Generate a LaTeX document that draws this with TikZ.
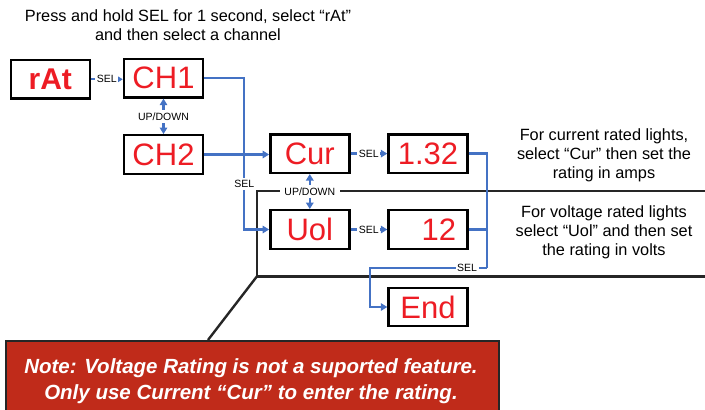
\documentclass[tikz,border=0pt]{standalone}
\usepackage{fontspec}
\setmainfont{Liberation Sans}
\usetikzlibrary{arrows.meta}
\definecolor{FlowClr}{rgb}{0.267,0.447,0.769}
\definecolor{DigitClr}{rgb}{0.929,0.110,0.141}
\definecolor{NoteClr}{rgb}{0.753,0.169,0.102}
\definecolor{FrameClr}{rgb}{0.15,0.15,0.15}

\tikzset{
  disp/.style={draw=black,line width=2.4pt,minimum width=79pt,minimum height=38.5pt,inner sep=0pt,text=DigitClr,font=\fontsize{31}{31}\selectfont},
  wire/.style={draw=FlowClr,line width=2.3pt},
  flow/.style={wire,-{Triangle[length=6.5pt,width=7.5pt]}},
  twoway/.style={wire,{Triangle[length=6.5pt,width=7.5pt]}-{Triangle[length=6.5pt,width=7.5pt]}},
  tag/.style={fill=white,inner xsep=1.5pt,inner ysep=2.5pt,font=\fontsize{10.5}{10.5}\selectfont},
  frame/.style={draw=FrameClr,line width=2.4pt},
  info/.style={align=center,font=\fontsize{16.3}{19}\selectfont},
  notebox/.style={fill=NoteClr,draw=FrameClr,line width=2pt,minimum width=493pt,minimum height=75pt,inner sep=0pt},
  notetext/.style={align=center,text=white,font=\fontsize{20.5}{26.5}\selectfont\bfseries\itshape}
}

\begin{document}
\begin{tikzpicture}[x=1pt,y=-1pt]
\useasboundingbox (0,0) rectangle (705,410);

\coordinate (fTop) at (257,190.7);
\coordinate (fBot) at (257,276.3);
\coordinate (fTip) at (208,340);
\draw[frame] (706,190.7) -- (fTop) -- (fBot) -- (706,276.3);
\draw[frame] (fBot) -- (fTip);

\node[notebox,anchor=north west] (note) at (4.7,340) {};
\node[notetext] (notetxt) at (251,381) {Note: Voltage Rating is not a suported feature.\\Only use Current “Cur” to enter the rating.};

\node[info] (hint) at (188,25.4) {Press and hold SEL for 1 second, select “rAt”\\and then select a channel};
\node[info] (curinfo) at (604,155) {For current rated lights,\\select “Cur” then set the\\rating in amps};
\node[info] (uolinfo) at (604,232.7) {For voltage rated lights\\select “Uol” and then set\\the rating in volts};

\node[disp,font=\fontsize{30}{30}\selectfont\bfseries] (rAt) at (50.3,79.3) {rAt};
\node[disp] (CH1) at (163.5,78.2) {CH1};
\node[disp] (CH2) at (163.5,154.5) {CH2};
\node[disp] (Cur) at (309.8,153.6) {Cur};
\node[disp] (v132) at (428,153.6) {1.32};
\node[disp] (Uol) at (309.8,229.5) {Uol};
\node[disp,text width=56pt,align=right] (v12) at (428,229.5) {12};
\node[disp] (End) at (428,307) {End};

\draw[flow] (rAt.east) -- node[tag]{SEL} (rAt.east -| CH1.west);
\draw[twoway] (CH1) -- node[tag]{UP/DOWN} (CH2);
\draw[flow] (CH1.east) -- ++(40,0) |- node[tag,pos=.35]{SEL} (Uol.west);
\draw[flow] (CH2.east) -- (CH2.east -| Cur.west);
\draw[twoway] (Cur) -- node[tag,inner xsep=4.5pt]{UP/DOWN} (Uol);
\draw[flow] (Cur) -- node[tag]{SEL} (v132);
\draw[flow] (Uol) -- node[tag]{SEL} (v12);

\coordinate (selJoin) at (487,268);
\coordinate (selTurn) at (370,268);
\draw[wire] (v132.east) -| (selJoin);
\draw[wire] (v12.east) -- (v12.east -| selJoin);
\draw[flow] (selJoin) -- node[tag,pos=.17]{SEL} (selTurn) |- (End.west);

\end{tikzpicture}
\end{document}
